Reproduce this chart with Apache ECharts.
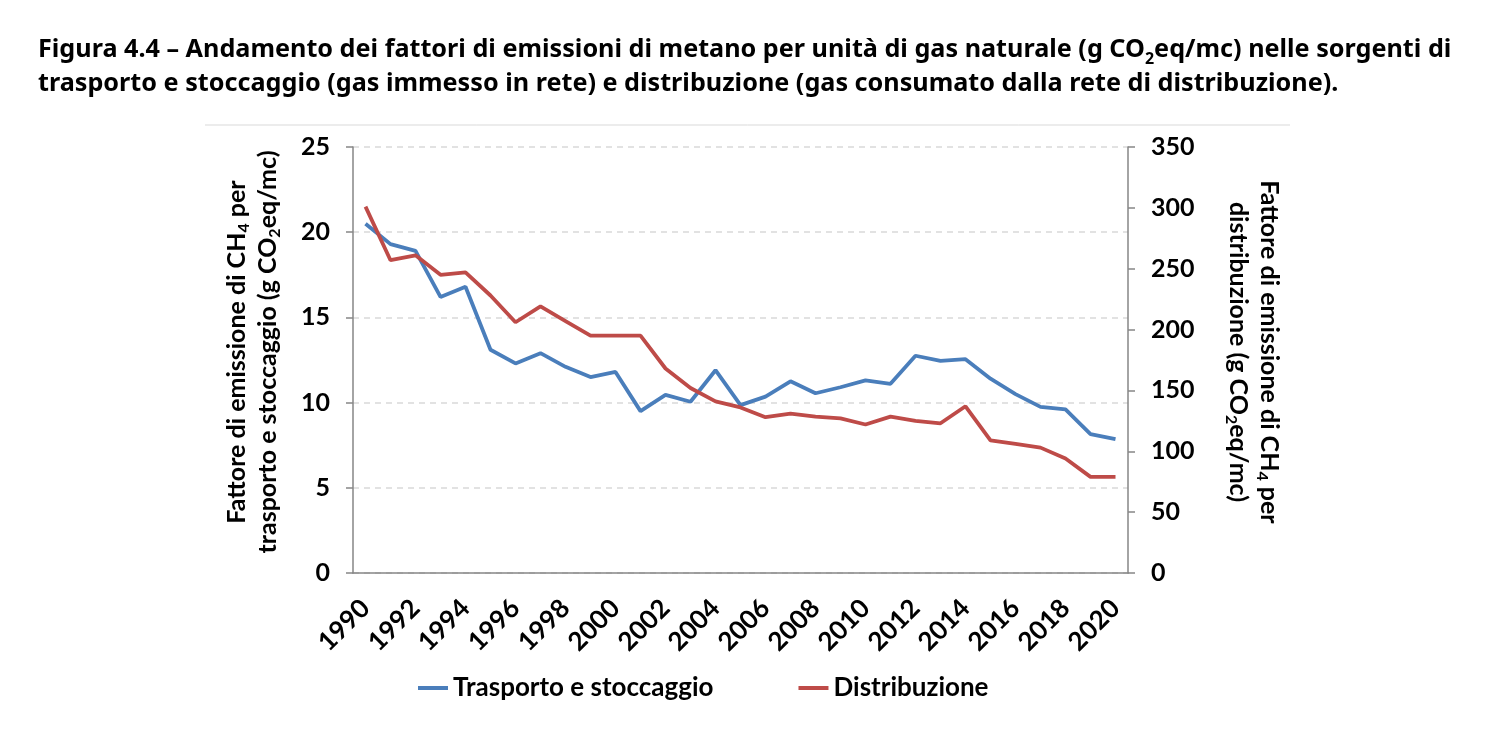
<!DOCTYPE html>
<html>
<head>
<meta charset="utf-8">
<script src="https://cdn.jsdelivr.net/npm/echarts@6/dist/echarts.min.js"></script>
<style>html,body{margin:0;padding:0;background:#fff;}#c{width:1500px;height:756px;}</style>
</head>
<body>
<div id="c"></div>
<script>
const years = ['1990','1991','1992','1993','1994','1995','1996','1997','1998','1999','2000','2001','2002','2003','2004','2005','2006','2007','2008','2009','2010','2011','2012','2013','2014','2015','2016','2017','2018','2019','2020'];
const trasporto = [20.5, 19.3, 18.9, 16.2, 16.8, 13.1, 12.3, 12.9, 12.1, 11.5, 11.8, 9.5, 10.45, 10.05, 11.9, 9.85, 10.35, 11.25, 10.55, 10.9, 11.3, 11.1, 12.75, 12.45, 12.55, 11.4, 10.5, 9.75, 9.6, 8.15, 7.85];
const distribuzione = [301, 257, 261, 245, 247, 228, 206, 219, 207, 195, 195, 195, 168, 152, 141, 136, 128, 131, 128.5, 127, 122, 128.5, 125, 123, 137, 109, 106, 103, 94, 79, 79];
const seriesNames = ['Trasporto e stoccaggio', 'Distribuzione'];
const titleLines = [
  '{b|Figura 4.4 – Andamento dei fattori di emissioni di metano per unità di gas naturale (g CO}{s|2}{b|eq/mc) nelle sorgenti di}',
  '{b|trasporto e stoccaggio (gas immesso in rete) e distribuzione (gas consumato dalla rete di distribuzione).}'
];
const leftName = 'Fattore di emissione di CH{s|4} per\ntrasporto e stoccaggio (g CO{s|2}eq/mc)';
const rightName = 'Fattore di emissione di CH{s|4} per\ndistribuzione (g CO{s|2}eq/mc)';

const chartFont = 'Lato';
const chart = echarts.init(document.getElementById('c'));
function nameStyle(pad) {
  return {
    fontFamily: chartFont, fontWeight: 'bold', fontSize: 25, color: '#000', lineHeight: 31, align: 'center',
    padding: pad,
    rich: { s: { fontFamily: chartFont, fontWeight: 'bold', fontSize: 16, color: '#000', verticalAlign: 'bottom', lineHeight: 28 } }
  };
}
chart.setOption({
  animation: false,
  title: {
    text: titleLines.join('\n'),
    left: 33, top: 28,
    textStyle: {
      rich: {
        b: { fontFamily: 'Noto Sans', fontWeight: 'bold', fontSize: 25.2, color: '#000', lineHeight: 34 },
        s: { fontFamily: 'Noto Sans', fontWeight: 'bold', fontSize: 16, color: '#000', lineHeight: 30, verticalAlign: 'bottom' }
      }
    }
  },
  graphic: [{
    type: 'line', shape: { x1: 205, y1: 125, x2: 1290, y2: 125 },
    style: { stroke: '#d9d9d9', lineWidth: 1 }
  }],
  legend: {
    bottom: 50, left: 413,
    itemGap: 85, itemWidth: 30, itemHeight: 4, icon: 'rect',
    textStyle: { fontFamily: chartFont, fontWeight: 'bold', fontSize: 26, color: '#000' },
    data: seriesNames
  },
  grid: { left: 353, right: 372, top: 147, bottom: 183, containLabel: false },
  xAxis: {
    type: 'category', data: years, boundaryGap: true,
    axisLine: { lineStyle: { color: '#868686', width: 1.5 } },
    axisTick: { interval: 1, length: 9, lineStyle: { color: '#868686', width: 1.5 } },
    axisLabel: { interval: 1, rotate: 45, fontFamily: chartFont, fontWeight: 'bold', fontSize: 26, color: '#000', margin: 31 }
  },
  yAxis: [{
    type: 'value', min: 0, max: 25, interval: 5, position: 'left',
    name: leftName, nameLocation: 'middle', nameGap: 70, nameRotate: 90,
    nameTextStyle: nameStyle([0, 0, 0, 16]),
    axisLine: { show: true, lineStyle: { color: '#868686', width: 1.5 } },
    axisTick: { show: true, length: 7, lineStyle: { color: '#868686', width: 1.5 } },
    axisLabel: { fontFamily: chartFont, fontWeight: 'bold', fontSize: 25, color: '#000', margin: 23 },
    splitLine: { show: true, lineStyle: { color: '#d9d9d9', type: [6, 5], width: 1.5 } }
  }, {
    type: 'value', min: 0, max: 350, interval: 50, position: 'right',
    name: rightName, nameLocation: 'middle', nameGap: 95, nameRotate: -90,
    nameTextStyle: nameStyle([0, 16, 0, 0]),
    axisLine: { show: true, lineStyle: { color: '#868686', width: 1.5 } },
    axisTick: { show: true, length: 7, lineStyle: { color: '#868686', width: 1.5 } },
    axisLabel: { fontFamily: chartFont, fontWeight: 'bold', fontSize: 25, color: '#000', margin: 23 },
    splitLine: { show: false }
  }],
  series: [{
    name: seriesNames[0], type: 'line', yAxisIndex: 0, data: trasporto,
    symbol: 'none', lineStyle: { color: '#4a7ebb', width: 3.8 }, itemStyle: { color: '#4a7ebb' }
  }, {
    name: seriesNames[1], type: 'line', yAxisIndex: 1, data: distribuzione,
    symbol: 'none', lineStyle: { color: '#be4b48', width: 3.8 }, itemStyle: { color: '#be4b48' }
  }]
});
</script>
</body>
</html>
